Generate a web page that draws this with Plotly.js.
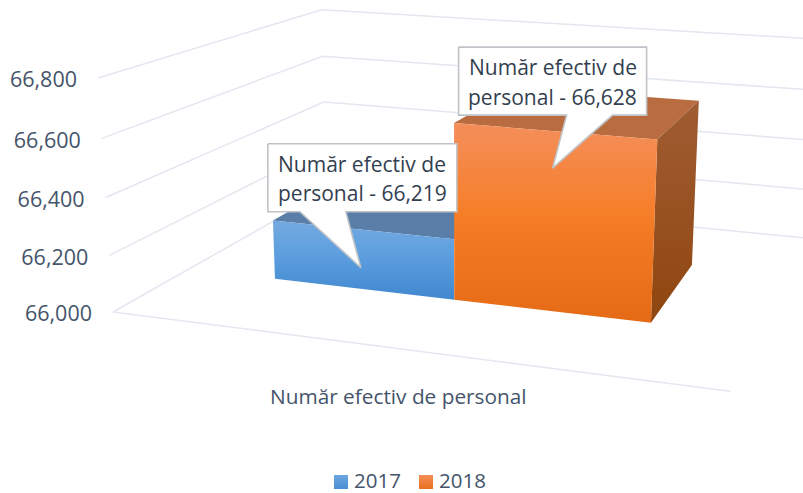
<!DOCTYPE html>
<html><head><meta charset="utf-8">
<script src="https://cdn.plot.ly/plotly-3.0.1.min.js"></script>
<style>html,body{margin:0;padding:0;background:#fff}#c{width:803px;height:493px}</style>
</head><body><div id="c"></div>
<script>
// ---- data ----
const categoryLabel = 'Număr efectiv de personal';
const seriesNames = ['2017', '2018'];
const seriesValues = [66219, 66628];
const tickValues = [66000, 66200, 66400, 66600, 66800];
const tickLabels = ['66,000', '66,200', '66,400', '66,600', '66,800'];
const calloutLines = [['Număr efectiv de', 'personal - 66,219'], ['Număr efectiv de', 'personal - 66,628']];

// ---- styles ----
const FONT = 'Open Sans, sans-serif';
const TICK_COL = '#44546a', TEXT_COL = '#333f50', GRID = '#e3e7ef';
const frontScale = [
  [[0, '#4088cf'], [0.6, '#5fa0e0'], [1, '#74a9df']],
  [[0, '#e56a15'], [0.55, '#f67e29'], [1, '#f48f5b']]
];
const topColor = ['#5b7ea8', '#b96c40'];
const sideScale = [[0, '#8f460f'], [1, '#a05c33']];

// ---- perspective camera: origin and three vanishing points (pixels) ----
const O = [113, 312], VU = [-4425, -270], VD = [1026, -205], VV = [462, 5750];
const kU = -0.1197, kD = 0.3043, kV = -0.04126;
const vMin = tickValues[0], vMax = tickValues[tickValues.length - 1];
function P(u, d, val) {
  const a = u * kU, b = d * kD, c = (val - vMin) / (vMax - vMin) * kV;
  const w = 1 + a + b + c;
  return [(O[0] + a * VU[0] + b * VD[0] + c * VV[0]) / w,
          (O[1] + a * VU[1] + b * VD[1] + c * VV[1]) / w];
}
function poly(pts) {
  const c = pts.concat([pts[0]]);
  return {x: c.map(p => p[0]), y: c.map(p => p[1])};
}

const D0 = 0.3, D1 = 0.7, nCat = seriesValues.length;
const barEdges = [0.166, 0.495, 0.829];
const uEdge = i => barEdges[i];
const traces = [];

// gridlines on the two walls
tickValues.forEach(v => {
  const pts = [P(0, 0, v), P(0, 1, v), P(1, 1, v)];
  traces.push({type: 'scatter', mode: 'lines', x: pts.map(p => p[0]), y: pts.map(p => p[1]),
    line: {color: GRID, width: 1.5}, hoverinfo: 'skip', showlegend: false});
});
// floor front edge
{ const pts = [P(0, 0, vMin), P(1, 0, vMin)];
  traces.push({type: 'scatter', mode: 'lines', x: pts.map(p => p[0]), y: pts.map(p => p[1]),
    line: {color: GRID, width: 1.5}, hoverinfo: 'skip', showlegend: false}); }

// bars
seriesValues.forEach((val, i) => {
  const u0 = uEdge(i), u1 = uEdge(i + 1);
  const top = poly([P(u0, D0, val), P(u1, D0, val), P(u1, D1, val), P(u0, D1, val)]);
  traces.push({type: 'scatter', mode: 'none', x: top.x, y: top.y, fill: 'toself',
    fillcolor: topColor[i], hoverinfo: 'skip', showlegend: false});
  if (i === nCat - 1) {
    const side = poly([P(u1, D0, vMin), P(u1, D0, val), P(u1, D1, val), P(u1, D1, vMin)]);
    traces.push({type: 'scatter', mode: 'none', x: side.x, y: side.y, fill: 'toself',
      fillgradient: {type: 'vertical', colorscale: sideScale}, hoverinfo: 'skip', showlegend: false});
  }
  const front = poly([P(u0, D0, vMin), P(u1, D0, vMin), P(u1, D0, val), P(u0, D0, val)]);
  traces.push({type: 'scatter', mode: 'none', name: seriesNames[i], x: front.x, y: front.y, fill: 'toself',
    fillgradient: {type: 'vertical', colorscale: frontScale[i]}, hoverinfo: 'skip', showlegend: false});
});

// callouts, placed relative to the top-centre of each bar's front face
const boxOff = [
  {l: -94, r: 95, t: -86, b: -18, wl: -62, wr: -16, tip: [-1, 38]},
  {l: -95, r: 93, t: -84, b: -16, wl: 13, wr: 59, tip: [-1, 37]}
];
const annotations = [];
seriesValues.forEach((val, i) => {
  const A = P((uEdge(i) + uEdge(i + 1)) / 2, D0, val), o = boxOff[i];
  const pts = [[o.l, o.t], [o.r, o.t], [o.r, o.b], [o.wr, o.b], o.tip, [o.wl, o.b], [o.l, o.b]]
    .map(p => [A[0] + p[0], A[1] + p[1]]);
  const c = poly(pts);
  traces.push({type: 'scatter', mode: 'lines', x: c.x, y: c.y, fill: 'toself', fillcolor: '#ffffff',
    line: {color: '#bfc3c7', width: 1.6}, hoverinfo: 'skip', showlegend: false});
  calloutLines[i].forEach((t, k) => {
    annotations.push({xref: 'x', yref: 'y', x: A[0] + (o.l + o.r) / 2, y: A[1] + o.t + 20 + k * 29.5, text: t,
      showarrow: false, xanchor: 'center', yanchor: 'middle',
      font: {family: FONT, size: 21, color: TEXT_COL}});
  });
});

// value-axis labels, following the left wall's front edge
{ const pts = tickValues.map(v => P(0, 0, v));
  traces.push({type: 'scatter', mode: 'text', x: pts.map(p => p[0] - 21), y: pts.map(p => p[1] + 4),
    text: tickLabels, textposition: 'middle left', textfont: {family: FONT, size: 21.5, color: TICK_COL},
    hoverinfo: 'skip', showlegend: false}); }

// category label
annotations.push({xref: 'x', yref: 'y', x: 398, y: 396, text: categoryLabel, showarrow: false,
  xanchor: 'center', yanchor: 'middle', font: {family: FONT, size: 20.8, color: TICK_COL}});

// legend
const legendX = [341, 426], legendY = 482;
const legendTop = ['#6ca6e0', '#f58d55'], legendBottom = ['#4a8fd4', '#ea7020'];
seriesNames.forEach((n, i) => {
  traces.push({type: 'scatter', mode: 'markers', name: n, x: [legendX[i]], y: [legendY],
    marker: {symbol: 'square', size: 14, color: legendTop[i], gradient: {type: 'vertical', color: legendBottom[i]}},
    hoverinfo: 'skip', showlegend: false});
  traces.push({type: 'scatter', mode: 'text', x: [legendX[i] + 13], y: [legendY + 1], text: [n],
    textposition: 'middle right', textfont: {family: FONT, size: 20.5, color: TICK_COL},
    hoverinfo: 'skip', showlegend: false});
});

const hidden = {visible: false, fixedrange: true};
Plotly.newPlot('c', traces, {
  width: 803, height: 493, margin: {l: 0, r: 0, t: 0, b: 0},
  paper_bgcolor: '#fff', plot_bgcolor: '#fff', showlegend: false,
  xaxis: Object.assign({range: [0, 803]}, hidden),
  yaxis: Object.assign({range: [493, 0]}, hidden),
  annotations
}, {displayModeBar: false, staticPlot: true});
</script></body></html>
